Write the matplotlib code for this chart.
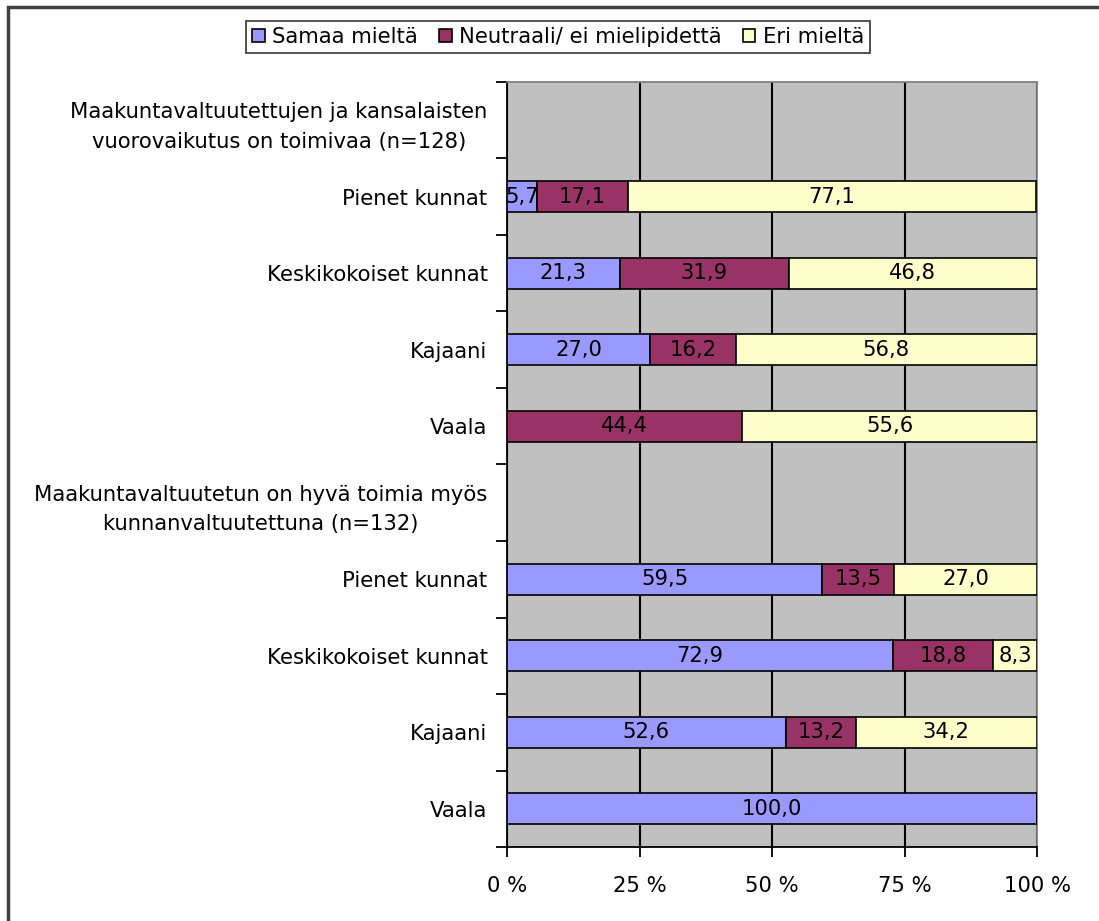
import matplotlib.pyplot as plt
from matplotlib.patches import Rectangle
import numpy as np

plt.rcParams["font.family"] = ["DejaVu Sans"]

categories = [
    "Maakuntavaltuutettujen ja kansalaisten\nvuorovaikutus on toimivaa (n=128)",
    "Pienet kunnat",
    "Keskikokoiset kunnat",
    "Kajaani",
    "Vaala",
    "Maakuntavaltuutetun on hyvä toimia myös\nkunnanvaltuutettuna (n=132)",
    "Pienet kunnat",
    "Keskikokoiset kunnat",
    "Kajaani",
    "Vaala",
]
samaa = [0, 5.7, 21.3, 27.0, 0, 0, 59.5, 72.9, 52.6, 100.0]
neutraali = [0, 17.1, 31.9, 16.2, 44.4, 0, 13.5, 18.8, 13.2, 0]
eri = [0, 77.1, 46.8, 56.8, 55.6, 0, 27.0, 8.3, 34.2, 0]
series_names = ["Samaa mieltä", "Neutraali/ ei mielipidettä", "Eri mieltä"]
colors = ["#9999FF", "#993366", "#FFFFCC"]
FS = 15.2

fig = plt.figure(figsize=(10.99, 9.21), dpi=100)
ax = fig.add_axes([507 / 1099, 1 - 847 / 921, 530 / 1099, 765 / 921])
ax.set_facecolor("#C0C0C0")

y = np.arange(len(categories))
left = np.zeros(len(categories))
for vals, name, col in zip([samaa, neutraali, eri], series_names, colors):
    vals = np.array(vals)
    ax.barh(y, vals, left=left, height=0.4, color=col, edgecolor="black",
            linewidth=1.2, label=name, zorder=3)
    for yi, v, l in zip(y, vals, left):
        if v > 0:
            ax.text(l + v / 2, yi, f"{v:.1f}".replace(".", ","), ha="center", va="center",
                    fontsize=FS, color="black", zorder=4)
    left = left + vals

ax.set_xlim(0, 100)
ax.set_ylim(len(categories) - 0.5, -0.5)
ax.set_xticks([0, 25, 50, 75, 100])
ax.set_xticklabels(["0 %", "25 %", "50 %", "75 %", "100 %"], fontsize=FS)
ax.xaxis.grid(True, color="black", linewidth=1.5, zorder=1)
ax.set_axisbelow(True)
ax.tick_params(axis="x", direction="out", length=7, width=1.3, pad=14)

ax.set_yticks(y)
ax.set_yticklabels(categories, fontsize=FS, multialignment="center", linespacing=1.6)
ax.set_yticks(np.arange(-0.5, len(categories), 1), minor=True)
ax.tick_params(axis="y", which="major", length=0, pad=14)
ax.tick_params(axis="y", which="minor", direction="out", length=8, width=1.3)

for s in ["top", "right"]:
    ax.spines[s].set_color("#808080")
    ax.spines[s].set_linewidth(1.3)
for s in ["left", "bottom"]:
    ax.spines[s].set_color("black")
    ax.spines[s].set_linewidth(1.3)

leg = fig.legend(loc="center", bbox_to_anchor=(558 / 1099, 1 - 37 / 921), ncol=3,
                 fontsize=FS, frameon=True, fancybox=False, edgecolor="black",
                 handlelength=0.6, handleheight=0.6, handletextpad=0.35,
                 columnspacing=1.0, borderpad=0.3)
leg.get_frame().set_linewidth(1.2)

# outer chart border
fig.patches.append(Rectangle((8 / 1099, -0.1), 1.2, 1 - 7 / 921 + 0.1,
                             transform=fig.transFigure, fill=False,
                             edgecolor="#404040", linewidth=2.5))

fig.savefig("out.png", dpi=100)
